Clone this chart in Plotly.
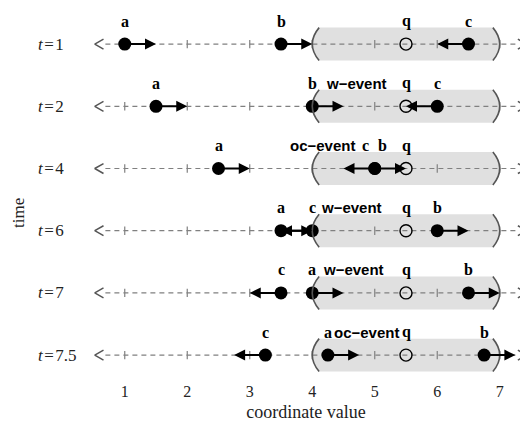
import plotly.graph_objects as go

# ---------------- data ----------------
row_labels = ["1", "2", "4", "6", "7", "7.5"]          # time of each row
q_pos = 5.5                                            # query point
q_radius = 1.5                                         # range radius around q
a_pos = [1.0, 1.5, 2.5, 3.5, 4.0, 4.25]
a_vel = [0.5, 0.5, 0.5, 0.5, 0.5, 0.5]
b_pos = [3.5, 4.0, 5.0, 6.0, 6.5, 6.75]
b_vel = [0.5, 0.5, 0.5, 0.5, 0.5, 0.5]
c_pos = [6.5, 6.0, 5.0, 4.0, 3.5, 3.25]
c_vel = [-0.5, -0.5, -0.5, -0.5, -0.5, -0.5]
event_rows = [1, 2, 3, 4, 5]
event_names = ["w\u2212event", "oc\u2212event", "w\u2212event", "w\u2212event", "oc\u2212event"]
event_x = [4.7, 4.17, 4.63, 4.66, 4.87]
x_ticks = [1, 2, 3, 4, 5, 6, 7]
line_min, line_max = 0.52, 7.43      # tips of the axis-line chevrons

# ---------------- figure ----------------
SERIF = "Liberation Serif"
SANS = "Liberation Sans"
GRAY = "#808080"
fig = go.Figure()
shapes = []
annotations = []
n = len(row_labels)
H = 0.265
BULGE = 0.11
CHEV_W, CHEV_H = 0.14, 0.08

for i in range(n):
    x0, x1 = q_pos - q_radius, q_pos + q_radius
    path = (f"M {x0+BULGE},{i-H} Q {x0-BULGE},{i} {x0+BULGE},{i+H} "
            f"L {x1-BULGE},{i+H} Q {x1+BULGE},{i} {x1-BULGE},{i-H} Z")
    shapes.append(dict(type="path", path=path, xref="x", yref="y",
                       fillcolor="#e0e0e0", line=dict(width=0), layer="below"))
    for p in (f"M {x0+BULGE},{i-H} Q {x0-BULGE},{i} {x0+BULGE},{i+H}",
              f"M {x1-BULGE},{i-H} Q {x1+BULGE},{i} {x1-BULGE},{i+H}"):
        shapes.append(dict(type="path", path=p, xref="x", yref="y",
                           line=dict(color="#555555", width=1.6), layer="above"))
    # dashed axis line
    fig.add_trace(go.Scatter(x=[line_min + CHEV_W + 0.03, line_max - CHEV_W - 0.03], y=[i, i],
                             mode="lines",
                             line=dict(color=GRAY, width=1.2, dash="5px,4px"),
                             hoverinfo="skip", showlegend=False))
    # unit ticks
    fig.add_trace(go.Scatter(x=x_ticks, y=[i] * len(x_ticks), mode="markers",
                             marker=dict(symbol="line-ns", size=6,
                                         line=dict(color=GRAY, width=1.2)),
                             hoverinfo="skip", showlegend=False))
    # end chevrons
    fig.add_trace(go.Scatter(
        x=[line_min + CHEV_W, line_min, line_min + CHEV_W, None,
           line_max - CHEV_W, line_max, line_max - CHEV_W],
        y=[i - CHEV_H, i, i + CHEV_H, None, i - CHEV_H, i, i + CHEV_H],
        mode="lines", line=dict(color="#555555", width=1.5),
        hoverinfo="skip", showlegend=False))
    # row label
    annotations.append(dict(x=-0.099, xref="paper", y=i, yref="y", xanchor="left",
                            text=f"<i>t</i>\u200a=\u200a{row_labels[i]}", showarrow=False,
                            font=dict(family=SERIF, size=17, color="#222")))

objects = [("a", a_pos, a_vel), ("b", b_pos, b_vel), ("c", c_pos, c_vel)]
for name, pos, vel in objects:
    for i in range(n):
        annotations.append(dict(x=pos[i] + vel[i], y=i, ax=pos[i], ay=i, axref="x", ayref="y",
                                xref="x", yref="y", text="", showarrow=True,
                                arrowhead=2, arrowsize=1.1, arrowwidth=2, arrowcolor="black",
                                standoff=0, startstandoff=0))
        shift = 0
        others = [p for nm, p, v in objects if nm != name and abs(p[i] - pos[i]) < 1e-9]
        if others:
            shift = -9 if vel[i] < 0 else 8
        annotations.append(dict(x=pos[i], y=i, text=f"<b>{name}</b>", showarrow=False,
                                yshift=23, xshift=shift,
                                font=dict(family=SERIF, size=16, color="black")))
    fig.add_trace(go.Scatter(x=pos, y=list(range(n)), mode="markers",
                             marker=dict(size=13, color="black"),
                             hoverinfo="skip", showlegend=False))

fig.add_trace(go.Scatter(x=[q_pos] * n, y=list(range(n)), mode="markers",
                         marker=dict(symbol="circle-open", size=12, color="black",
                                     line=dict(color="black", width=1.4)),
                         hoverinfo="skip", showlegend=False))
for i in range(n):
    annotations.append(dict(x=q_pos, y=i, text="<b>q</b>", showarrow=False, yshift=23,
                            font=dict(family=SERIF, size=16, color="black")))

for r, nm, ex in zip(event_rows, event_names, event_x):
    annotations.append(dict(x=ex, y=r, text=f"<b>{nm}</b>", showarrow=False, yshift=23,
                            font=dict(family=SANS, size=15, color="black")))

annotations.append(dict(x=-0.14, xref="paper", y=0.455, yref="paper", text="time",
                        textangle=-90, showarrow=False, xanchor="center", yanchor="middle",
                        font=dict(family=SERIF, size=17, color="#222")))

fig.update_layout(
    width=528, height=422,
    margin=dict(l=73, r=5, t=5, b=50),
    font=dict(family=SERIF),
    plot_bgcolor="white", paper_bgcolor="white",
    shapes=shapes, annotations=annotations,
    xaxis=dict(range=[0.3, 7.5], tickvals=x_ticks, showgrid=False, zeroline=False,
               showline=False, ticks="", tickfont=dict(family=SERIF, size=16, color="#222"),
               title=dict(text="coordinate value", font=dict(family=SERIF, size=18, color="#222"),
                          standoff=6)),
    yaxis=dict(range=[5.4, -0.5], showgrid=False, zeroline=False, showline=False,
               showticklabels=False, ticks=""),
)

fig.write_html("out.html")
